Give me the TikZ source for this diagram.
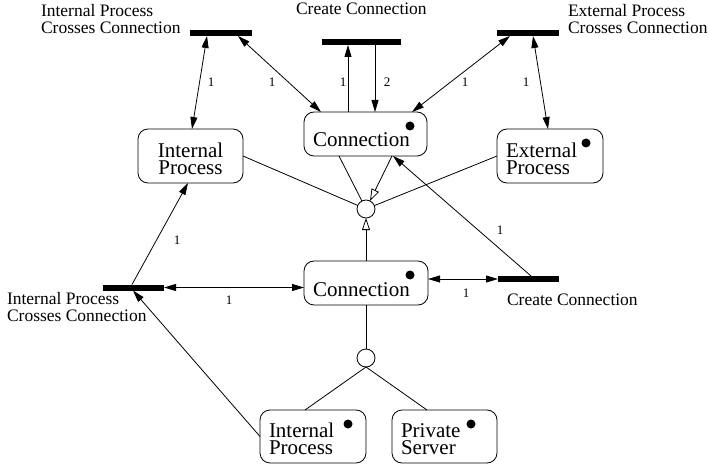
\documentclass[tikz,border=0pt]{standalone}
\usepackage{fontspec}
\setmainfont{Liberation Serif}
\usetikzlibrary{arrows.meta,calc}
\newcommand{\tallstrut}{\rule{0pt}{20pt}}
\begin{document}
\begin{tikzpicture}[x=1pt,y=-1pt, line width=0.8pt,
  every node/.style={inner sep=0pt,outer sep=0pt},
  objbox/.style={draw, rounded corners=10pt, inner xsep=9pt, inner ysep=0pt, align=left, font=\fontsize{21}{17}\selectfont},
  bar/.style={fill=black, minimum height=6pt},
  junction/.style={draw, circle, minimum size=18pt, fill=white},
  lbl/.style={font=\fontsize{17.5}{17.5}\selectfont, align=left},
  num/.style={font=\fontsize{13}{13}\selectfont},
  arr/.style={-{Triangle[length=12pt,width=7pt]}},
  darr/.style={{Triangle[length=12pt,width=7pt]}-{Triangle[length=12pt,width=7pt]}},
  gen/.style={-{Triangle[open,length=12pt,width=8pt]}}
]
\useasboundingbox (0,0) rectangle (709,465);

% object boxes
\node[objbox, align=center, text width=87pt, minimum height=54pt] (ip1) at (190.5,156) {\tallstrut Internal\\Process};
\node[objbox, text width=105pt, minimum height=44pt, text height=26pt, text depth=0pt] (conn1) at (365.5,134) {Connection};
\node[objbox, text width=88pt, minimum height=54pt] (ep) at (550,156) {\tallstrut External\\Process};
\node[junction] (j1) at (366,209) {};
\node[objbox, text width=106pt, minimum height=44pt, text height=26pt, text depth=0pt] (conn2) at (366,283) {Connection};
\node[junction] (j2) at (366,358) {};
\node[objbox, text width=88pt, minimum height=53pt] (ip2) at (313,436.5) {\tallstrut Internal\\Process};
\node[objbox, text width=87pt, minimum height=53pt] (ps) at (444.5,436.5) {\tallstrut Private\\Server};

% bars
\node[bar, minimum width=62pt] (bTL) at (221,33) {};
\node[bar, minimum width=79pt] (bTC) at (361.5,42) {};
\node[bar, minimum width=62pt] (bTR) at (528,33) {};
\node[bar, minimum width=61pt] (bML) at (133.5,287.5) {};
\node[bar, minimum width=61pt] (bMR) at (528.5,279) {};

% bar labels
\node[lbl, anchor=north west] (tTL) at (41,4) {Internal Process\\Crosses Connection};
\node[lbl, anchor=base west] (tTC) at (296,15) {Create Connection};
\node[lbl, anchor=north west] (tTR) at (568,4) {External Process\\Crosses Connection};
\node[lbl, anchor=north west] (tML) at (7,292) {Internal Process\\Crosses Connection};
\node[lbl, anchor=base west] (tMR) at (507,305) {Create Connection};

% connectors
\draw[darr] ([xshift=-14pt]bTL.south) -- ([xshift=1.5pt]ip1.north);
\draw[darr] ([xshift=17pt]bTL.south) -- ([xshift=17pt]conn1.north west);
\draw[arr] ([xshift=-17.5pt]conn1.north) -- ([xshift=-13.5pt]bTC.south);
\draw[arr] ([xshift=13.5pt]bTC.south) -- ([xshift=9.5pt]conn1.north);
\draw[darr] ([xshift=-18pt]bTR.south) -- ([xshift=-15pt]conn1.north east);
\draw[darr] ([xshift=5pt]bTR.south) -- ([xshift=-2pt]ep.north);
\draw (ip1.east) -- (j1);
\draw ([xshift=-26.5pt]conn1.south) -- (j1);
\draw[gen] ([xshift=26.5pt]conn1.south) -- (j1);
\draw (ep.west) -- (j1);
\draw[gen] (conn2.north) -- (j1.south);
\draw[arr] ([xshift=2.5pt]bMR.north) -- ([xshift=-34pt]conn1.south east);
\draw[darr] ([yshift=4pt]conn2.east) -- (bMR.west);
\draw[darr] (bML.east) -- (bML.east -| conn2.west);
\draw[arr] ([xshift=-1.5pt]bML.north) -- ([xshift=-2.5pt]ip1.south);
\draw[arr] (ip2.west) -- ([xshift=-0.5pt]bML.south);
\draw (conn2.south) -- (j2.north);
\draw (j2.south) -- ([xshift=-8pt]ip2.north);
\draw (j2.south) -- ([xshift=-17.5pt]ps.north);

% multiplicities
\node[num] (m1) at (211,82) {1};
\node[num] (m2) at (272,82) {1};
\node[num] (m3) at (343,82) {1};
\node[num] (m4) at (387,82) {2};
\node[num] (m5) at (465,82) {1};
\node[num] (m6) at (526,82) {1};
\node[num] (m7) at (500,230) {1};
\node[num] (m8) at (466,293) {1};
\node[num] (m9) at (177,240) {1};
\node[num] (m10) at (229,300) {1};

% object markers
\fill ([xshift=-17pt,yshift=-14pt]conn1.north east) circle (4.5pt);
\fill ([xshift=-18pt,yshift=-14pt]conn2.north east) circle (4.5pt);
\fill ([xshift=-17pt,yshift=-14pt]ep.north east) circle (4.5pt);
\fill ([xshift=-18pt,yshift=-14pt]ip2.north east) circle (4.5pt);
\fill ([xshift=-26pt,yshift=-14pt]ps.north east) circle (4.5pt);
\end{tikzpicture}
\end{document}
